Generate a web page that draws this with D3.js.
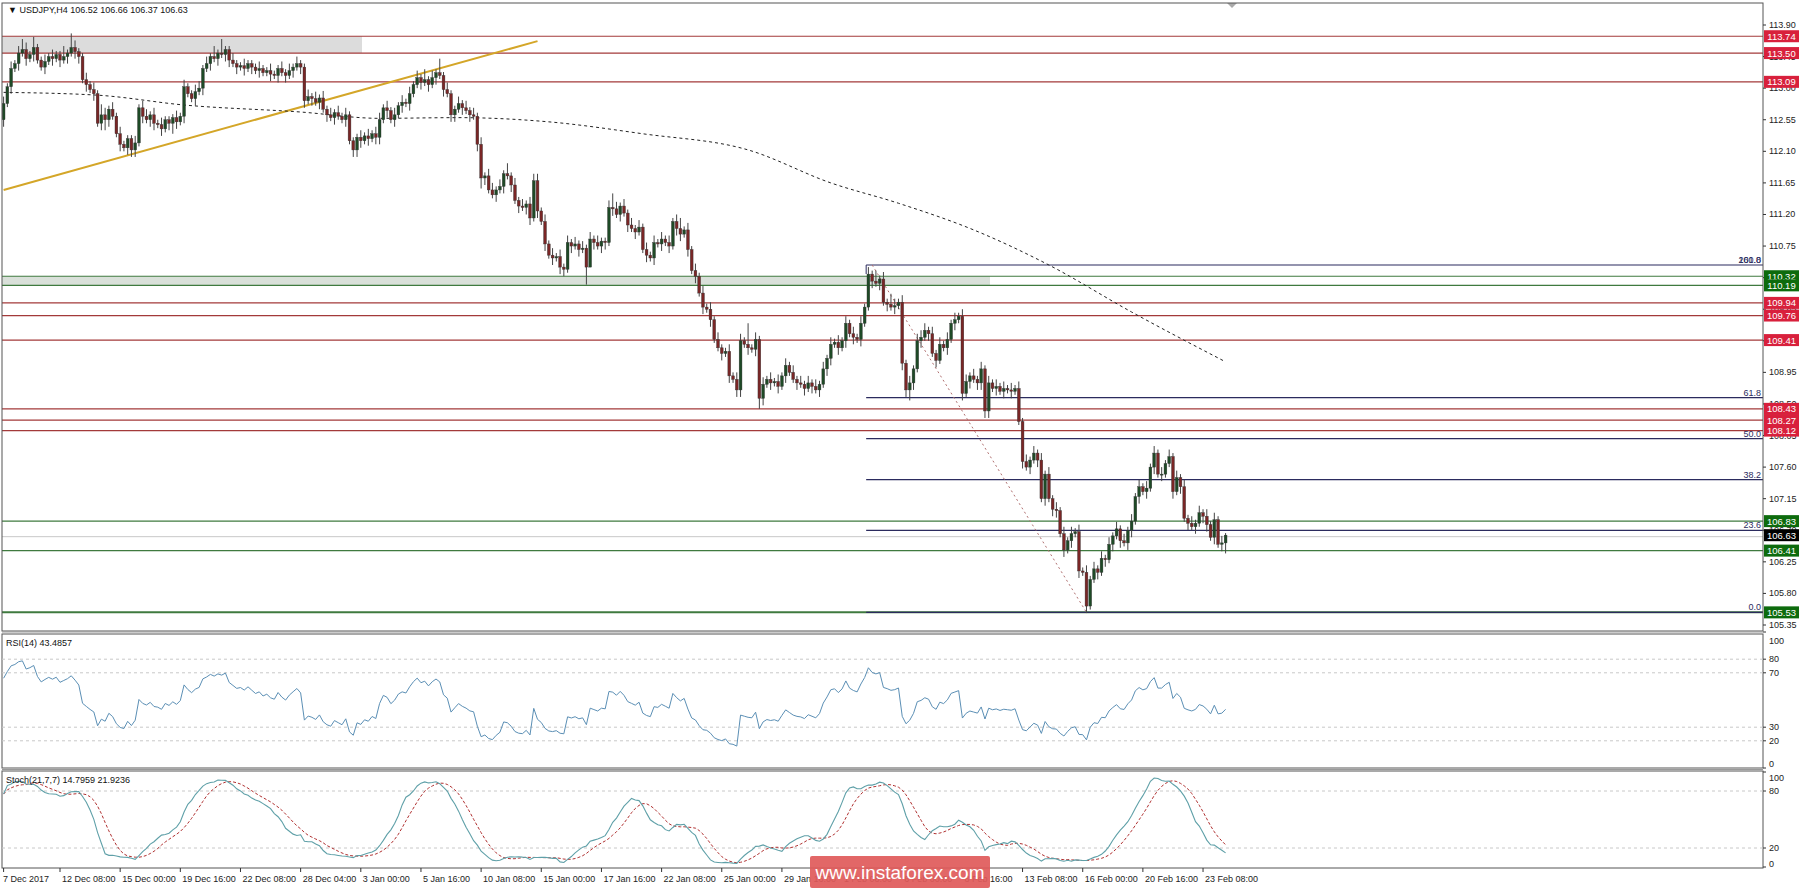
<!DOCTYPE html>
<html>
<head>
<script src="https://d3js.org/d3.v7.min.js"></script>
<style>
body{margin:0;background:#fff;}
text{font-family:"Liberation Sans",Arial,sans-serif;}
</style>
</head>
<body>
<svg id="chart" width="1800" height="888"></svg>
<script>
// closes of each H4 bar (open = previous close)
var closes = [
112.78,113.02,113.28,113.35,113.50,113.55,113.42,113.48,113.58,113.40,
113.30,113.38,113.45,113.42,113.48,113.40,113.45,113.50,113.58,113.52,
113.45,113.12,113.05,112.98,112.92,112.50,112.62,112.55,112.70,112.60,
112.35,112.20,112.15,112.28,112.12,112.22,112.72,112.60,112.55,112.62,
112.50,112.48,112.42,112.55,112.50,112.58,112.52,112.60,113.02,112.92,
112.85,112.95,113.00,113.28,113.35,113.45,113.42,113.50,113.48,113.55,
113.40,113.35,113.30,113.32,113.28,113.35,113.30,113.25,113.28,113.22,
113.25,113.20,113.18,113.28,113.22,113.18,113.25,113.30,113.35,113.30,
112.82,112.88,112.85,112.80,112.86,112.70,112.62,112.58,112.65,112.60,
112.55,112.62,112.25,112.12,112.30,112.25,112.32,112.28,112.35,112.30,
112.55,112.72,112.68,112.55,112.62,112.75,112.80,112.78,112.92,113.05,
113.15,113.08,113.12,113.05,113.15,113.22,113.18,112.98,112.92,112.62,
112.70,112.78,112.72,112.68,112.62,112.60,112.20,111.72,111.75,111.55,
111.48,111.55,111.60,111.78,111.75,111.62,111.40,111.32,111.30,111.35,
111.15,111.68,111.25,111.10,110.78,110.62,110.58,110.60,110.45,110.42,
110.80,110.75,110.78,110.70,110.72,110.45,110.85,110.80,110.75,110.82,
110.80,111.30,111.28,111.20,111.32,111.22,111.05,111.00,110.95,111.02,
110.70,110.62,110.58,110.80,110.78,110.85,110.80,110.75,111.10,111.00,
110.92,110.98,110.70,110.40,110.32,110.08,109.88,109.85,109.70,109.42,
109.30,109.22,109.25,108.90,108.85,108.70,109.40,109.35,109.30,109.28,
109.42,108.58,108.78,108.85,108.80,108.82,108.75,108.90,109.05,108.95,
108.85,108.80,108.78,108.72,108.80,108.75,108.70,108.78,109.00,109.15,
109.35,109.38,109.30,109.40,109.65,109.50,109.45,109.42,109.65,109.88,
110.35,110.25,110.22,110.28,109.95,109.92,109.88,109.90,109.95,109.08,
108.70,108.80,109.00,109.40,109.45,109.55,109.50,109.22,109.12,109.35,
109.30,109.42,109.65,109.70,109.75,108.65,108.82,108.90,108.85,108.80,
109.00,108.40,108.80,108.72,108.75,108.68,108.72,108.70,108.68,108.72,
108.25,107.68,107.60,107.70,107.80,107.70,107.15,107.50,107.15,107.00,
106.98,106.65,106.42,106.55,106.65,106.68,106.12,106.10,105.62,106.00,
106.15,106.10,106.30,106.28,106.50,106.62,106.72,106.55,106.52,106.70,
106.83,107.18,107.32,107.25,107.30,107.60,107.80,107.50,107.50,107.65,
107.75,107.25,107.45,107.32,106.87,106.80,106.75,106.80,106.95,106.90,
106.78,106.60,106.85,106.50,106.52,106.63];
var firstOpen = 112.55;
// wick lengths beyond the body, one digit per bar, in 0.05 steps
var upperWicks =
"2121232131121211314211212132121211121221212111212112212131411211211121" +
"1211212121121212121212111212122121212121213121412112121212122121312121" +
"2221212121212121212112421212121212121212312121212121121221612121212121" +
"2121212121212121212121312132121212221212121212212121212121212121212121" +
"212121212121212121212121212121212121212121212212121212121212121";
var lowerWicks =
"2121212121121212121221212123211212221212212123212112121212122121212121" +
"1212121212212121212112122212122121212121121212121221212123211212121212" +
"2121212122121215021221212121211212121212212121212112121221212321212121" +
"1212121212212121212112121212122321212121121212121222212121211212121212" +
"212121212112121212122121212121121212121221212321212121212121212";
// average gain / loss of the 14 bars before the window (RSI starts near 60)
var rsiSeedGain = 0.06, rsiSeedLoss = 0.04;

// dashed moving average, read at these bars
var maBars = [0, 25, 48, 79, 100, 121, 145, 170, 198, 220, 238, 258, 278, 300, 325];
var maValues = [112.94, 112.90, 112.76, 112.66, 112.57, 112.58, 112.52, 112.35, 112.12, 111.65, 111.36, 110.98, 110.48, 109.81, 109.10];

// trend line and fibonacci swing
var trendBars = [0, 142], trendValues = [111.55, 113.67];
var fibBars = [231, 288], fibValues = [110.48, 105.53];
var fibLevels = [0, 23.6, 38.2, 50.0, 61.8, 100.0];

// horizontal levels
var redLevels = [113.74, 113.50, 113.09, 109.94, 109.76, 109.41, 108.43, 108.27, 108.12];
var greenLevels = [110.32, 110.19, 106.83, 106.41, 105.53];
var lastPrice = 106.63;

var priceTicks = [113.90,113.45,113.00,112.55,112.10,111.65,111.20,110.75,110.30,109.85,109.40,108.95,108.50,108.05,107.60,107.15,106.70,106.25,105.80,105.35];
var dateLabels = ["7 Dec 2017","12 Dec 08:00","15 Dec 00:00","19 Dec 16:00","22 Dec 08:00","28 Dec 04:00","3 Jan 00:00","5 Jan 16:00","10 Jan 08:00","15 Jan 00:00","17 Jan 16:00","22 Jan 08:00","25 Jan 00:00","29 Jan 16:00","1 Feb 08:00","6 Feb 00:00","8 Feb 16:00","13 Feb 08:00","16 Feb 00:00","20 Feb 16:00","23 Feb 08:00"];
var dateBars = [0,15,31,47,63,79,95,111,127,143,159,175,191,207,223,239,255,271,287,303,319];

// build candles
var bars = closes.map(function(c, i) {
	var o = i == 0 ? firstOpen : closes[i-1];
	return {i: i, o: o, c: c,
		h: Math.max(o, c) + 0.05 * +upperWicks[i],
		l: Math.min(o, c) - 0.05 * +lowerWicks[i]};
});
bars[bars.length-1].h = 106.66; bars[bars.length-1].l = 106.37; bars[bars.length-1].o = 106.52;

// RSI(14)
var rsi = [], ag = rsiSeedGain, al = rsiSeedLoss;
bars.forEach(function(d, i) {
	var ch = d.c - d.o;
	var g = Math.max(ch, 0), l = Math.max(-ch, 0);
	ag = (ag * 13 + g) / 14; al = (al * 13 + l) / 14;
	rsi.push(al == 0 ? 100 : 100 - 100 / (1 + ag / al));
});
// Stoch(21,7,7)
var stK = [], stD = [];
bars.forEach(function(d, i) {
	var num = 0, den = 0;
	for (var j = Math.max(0, i - 6); j <= i; j++) {
		var w = bars.slice(Math.max(0, j - 20), j + 1);
		var hh = d3.max(w, function(b) {return b.h;}), ll = d3.min(w, function(b) {return b.l;});
		num += bars[j].c - ll; den += hh - ll;
	}
	stK.push(den == 0 ? 50 : 100 * num / den);
	stD.push(d3.mean(stK.slice(Math.max(0, i - 6), i + 1)));
});

var svg = d3.select("#chart");
var L = 2, R = 1763;
var x = d3.scaleLinear().domain([0, 1]).range([3.6, 7.36]);
var y = d3.scaleLinear().domain([105.35, 113.90]).range([625, 25]);
var yR = d3.scaleLinear().domain([0, 100]).range([768, 632]);
var yS = d3.scaleLinear().domain([0, 100]).range([867, 772]);

var main = svg.append("g");
main.append("defs").append("clipPath").attr("id", "clipMain")
	.append("rect").attr("x", L).attr("y", 3).attr("width", R - L).attr("height", 628);
var g = main.append("g").attr("clip-path", "url(#clipMain)");

// zones
g.append("rect").attr("x", L).attr("width", 362 - L).attr("y", y(113.74)).attr("height", y(113.50) - y(113.74)).attr("fill", "#dcdcdc");
g.append("rect").attr("x", L).attr("width", 990 - L).attr("y", y(110.32)).attr("height", y(110.19) - y(110.32)).attr("fill", "#d9e0d9");

// levels
g.selectAll(".red").data(redLevels).enter().append("line")
	.attr("x1", L).attr("x2", R).attr("y1", y).attr("y2", y)
	.attr("stroke", "#a33a3a").attr("stroke-width", 1.2);
g.selectAll(".grn").data(greenLevels).enter().append("line")
	.attr("x1", L).attr("x2", R).attr("y1", y).attr("y2", y)
	.attr("stroke", "#3f7a3f").attr("stroke-width", function(d) {return d == 105.53 ? 2 : 1.2;});
g.append("line").attr("x1", L).attr("x2", R).attr("y1", y(lastPrice) + 1.5).attr("y2", y(lastPrice) + 1.5)
	.attr("stroke", "#c8c8c8");

// fibonacci
var fx = x(fibBars[0]) - 6;
var fr = fibValues[0] - fibValues[1];
g.selectAll(".fib").data(fibLevels).enter().append("line")
	.attr("x1", fx).attr("x2", R)
	.attr("y1", function(d) {return y(fibValues[1] + fr * d / 100);})
	.attr("y2", function(d) {return y(fibValues[1] + fr * d / 100);})
	.attr("stroke", "#2b2b5e").attr("stroke-width", 1.2);
g.append("line").attr("x1", fx).attr("x2", fx).attr("y1", y(fibValues[0])).attr("y2", y(fibValues[0]) + 9).attr("stroke", "#2b2b5e");
g.append("line").attr("x1", x(fibBars[0])).attr("x2", x(fibBars[1]))
	.attr("y1", y(fibValues[0])).attr("y2", y(fibValues[1]))
	.attr("stroke", "#b07070").attr("stroke-dasharray", "2,3");
g.selectAll(".fibt").data(fibLevels).enter().append("text")
	.attr("x", R - 2).attr("y", function(d) {return y(fibValues[1] + fr * d / 100) - 2;})
	.attr("text-anchor", "end").attr("font-size", 9).attr("fill", "#2b2b5e")
	.text(function(d) {return d == 100 ? "261.8" : d.toFixed(1);});
g.append("text").attr("x", R - 2).attr("y", y(fibValues[0]) - 2).attr("text-anchor", "end")
	.attr("font-size", 9).attr("fill", "#2b2b5e").text("100.0");

// trend line and MA
g.append("line").attr("x1", x(trendBars[0])).attr("x2", x(trendBars[1]))
	.attr("y1", y(trendValues[0])).attr("y2", y(trendValues[1]))
	.attr("stroke", "#d4a628").attr("stroke-width", 2);
g.append("path").datum(maBars.map(function(b, i) {return [b, maValues[i]];}))
	.attr("d", d3.line().curve(d3.curveMonotoneX).x(function(d) {return x(d[0]);}).y(function(d) {return y(d[1]);}))
	.attr("fill", "none").attr("stroke", "#222").attr("stroke-dasharray", "3,3");

// candles
var cg = g.selectAll(".candle").data(bars).enter().append("g");
cg.append("line").attr("x1", function(d) {return x(d.i);}).attr("x2", function(d) {return x(d.i);})
	.attr("y1", function(d) {return y(d.h);}).attr("y2", function(d) {return y(d.l);})
	.attr("stroke", "#444").attr("stroke-width", 1);
cg.append("rect").attr("x", function(d) {return x(d.i) - 1.4;}).attr("width", 2.8)
	.attr("y", function(d) {return y(Math.max(d.o, d.c));})
	.attr("height", function(d) {return Math.max(1, Math.abs(y(d.o) - y(d.c)));})
	.attr("fill", function(d) {return d.c >= d.o ? "#1e4a26" : "#7a2626";})
	.attr("stroke", "#333").attr("stroke-width", 0.4);

// header
svg.append("text").attr("x", 8).attr("y", 13).attr("font-size", 9).attr("fill", "#111")
	.text("\u25BC USDJPY,H4  106.52 106.66 106.37 106.63");
svg.append("path").attr("d", "M1227,3 L1237,3 L1232,8 Z").attr("fill", "#aaa");

// panel frames
svg.append("rect").attr("x", L).attr("y", 3).attr("width", R - L).attr("height", 628).attr("fill", "none").attr("stroke", "#555");
svg.append("rect").attr("x", L).attr("y", 634).attr("width", R - L).attr("height", 134).attr("fill", "none").attr("stroke", "#555");
svg.append("rect").attr("x", L).attr("y", 771).attr("width", R - L).attr("height", 97).attr("fill", "none").attr("stroke", "#555");
svg.append("line").attr("x1", L).attr("x2", R).attr("y1", 632).attr("y2", 632).attr("stroke", "#999");
svg.append("line").attr("x1", L).attr("x2", R).attr("y1", 769.5).attr("y2", 769.5).attr("stroke", "#999");

// price axis
var pa = svg.append("g");
pa.selectAll("line").data(priceTicks).enter().append("line")
	.attr("x1", R).attr("x2", R + 3).attr("y1", y).attr("y2", y).attr("stroke", "#333");
pa.selectAll("text").data(priceTicks).enter().append("text")
	.attr("x", R + 6).attr("y", function(d) {return y(d) + 3;}).attr("font-size", 9).attr("fill", "#222")
	.text(function(d) {return d.toFixed(2);});

function tag(v, col) {
	svg.append("rect").attr("x", R + 1).attr("y", y(v) - 6).attr("width", 35).attr("height", 12).attr("fill", col);
	svg.append("text").attr("x", R + 18.5).attr("y", y(v) + 3.5).attr("text-anchor", "middle")
		.attr("font-size", 9.5).attr("fill", "#fff").text(v.toFixed(2));
}
redLevels.forEach(function(v) {tag(v, "#d8203c");});
greenLevels.forEach(function(v) {tag(v, "#0d6b0d");});
tag(lastPrice, "#000");

// RSI panel
[80, 70, 30, 20].forEach(function(v) {
	svg.append("line").attr("x1", L).attr("x2", R).attr("y1", yR(v)).attr("y2", yR(v))
		.attr("stroke", "#c8c8c8").attr("stroke-dasharray", "3,3");
});
svg.append("path").datum(rsi)
	.attr("d", d3.line().x(function(d, i) {return x(i);}).y(function(d) {return yR(d);}))
	.attr("fill", "none").attr("stroke", "#5b8fb5").attr("stroke-width", 1);
svg.append("text").attr("x", 6).attr("y", 646).attr("font-size", 9).attr("fill", "#111").text("RSI(14) 43.4857");
[100, 80, 70, 30, 20, 0].forEach(function(v) {
	svg.append("line").attr("x1", R).attr("x2", R + 3).attr("y1", yR(v)).attr("y2", yR(v)).attr("stroke", "#333");
	svg.append("text").attr("x", R + 6).attr("y", Math.min(Math.max(yR(v) + 3, 644), 767)).attr("font-size", 9).attr("fill", "#222").text(v);
});

// Stoch panel
[80, 20].forEach(function(v) {
	svg.append("line").attr("x1", L).attr("x2", R).attr("y1", yS(v)).attr("y2", yS(v))
		.attr("stroke", "#c8c8c8").attr("stroke-dasharray", "3,3");
});
svg.append("path").datum(stD)
	.attr("d", d3.line().x(function(d, i) {return x(i);}).y(function(d) {return yS(d);}))
	.attr("fill", "none").attr("stroke", "#b03030").attr("stroke-dasharray", "3,2");
svg.append("path").datum(stK)
	.attr("d", d3.line().x(function(d, i) {return x(i);}).y(function(d) {return yS(d);}))
	.attr("fill", "none").attr("stroke", "#5fa0a8").attr("stroke-width", 1.1);
svg.append("text").attr("x", 6).attr("y", 783).attr("font-size", 9).attr("fill", "#111").text("Stoch(21,7,7) 14.7959 21.9236");
[100, 80, 20, 0].forEach(function(v) {
	svg.append("line").attr("x1", R).attr("x2", R + 3).attr("y1", yS(v)).attr("y2", yS(v)).attr("stroke", "#333");
	svg.append("text").attr("x", R + 6).attr("y", Math.min(Math.max(yS(v) + 3, 781), 867)).attr("font-size", 9).attr("fill", "#222").text(v);
});

// time axis
var ta = svg.append("g");
ta.selectAll("line").data(dateBars).enter().append("line")
	.attr("x1", function(d) {return x(d);}).attr("x2", function(d) {return x(d);})
	.attr("y1", 868).attr("y2", 872).attr("stroke", "#333");
ta.selectAll("text").data(dateLabels).enter().append("text")
	.attr("x", function(d, i) {return i == 0 ? 3 : x(dateBars[i]) + 2;}).attr("y", 882)
	.attr("font-size", 9).attr("fill", "#222").text(function(d) {return d;});

// watermark
svg.append("rect").attr("x", 810).attr("y", 856).attr("width", 180).attr("height", 32).attr("rx", 2).attr("fill", "#e05a5a").attr("opacity", 0.92);
svg.append("text").attr("x", 900).attr("y", 879).attr("text-anchor", "middle").attr("font-size", 19)
	.attr("fill", "#fff").text("www.instaforex.com");
</script>
</body>
</html>
